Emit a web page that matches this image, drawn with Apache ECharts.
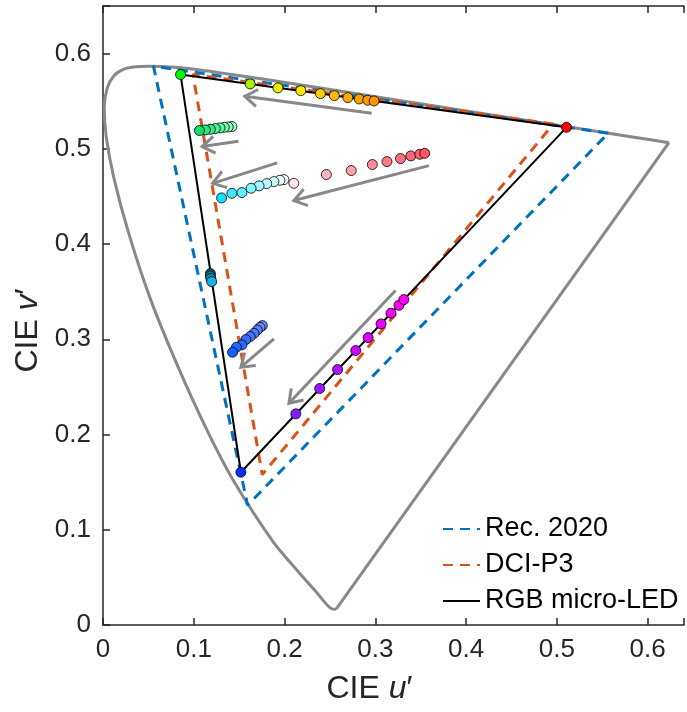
<!DOCTYPE html>
<html>
<head>
<meta charset="utf-8">
<script src="https://cdn.jsdelivr.net/npm/echarts@6/dist/echarts.min.js"></script>
<style>
html,body{margin:0;padding:0;background:#fff;}
#chart{width:687px;height:712px;}
</style>
</head>
<body>
<div id="chart"></div>
<script>
// Spectral locus (CIE 1931 2°, converted to u'v'), 700 nm ... 380 nm
const locusU = [0.6234,0.5830,0.5203,0.4035,0.3315,0.2623,0.2026,0.1531,0.1127,0.0792,0.0501,0.0360,0.0231,0.0123,0.0046,0.0014,0.0035,0.0119,0.0282,0.0521,0.0828,0.1147,0.1441,0.1877,0.2161,0.2347,0.2522,0.2568];
const locusV = [0.5065,0.5125,0.5219,0.5393,0.5501,0.5604,0.5694,0.5766,0.5821,0.5856,0.5868,0.5861,0.5837,0.5770,0.5638,0.5432,0.5131,0.4698,0.4117,0.3427,0.2708,0.2044,0.1510,0.0871,0.0549,0.0350,0.0169,0.0166];

// Gamut triangles (R, G, B)
const rec2020U = [0.5566,0.0556,0.1593];
const rec2020V = [0.5165,0.5868,0.1258];
const p3U = [0.4961,0.0991,0.1754];
const p3V = [0.5261,0.5780,0.1579];
const ledU = [0.5106,0.0854,0.1519];
const ledV = [0.5226,0.5780,0.1604];

// Measured points
const topU = [0.0854,0.1621,0.1927,0.2179,0.2395,0.2548,0.2697,0.2822,0.2916,0.2986];
const topV = [0.5780,0.5682,0.5640,0.5611,0.5580,0.5559,0.5538,0.5524,0.5510,0.5503];
const topColors = ['#00ff00','#a8f000','#e8f000','#ffe600','#ffcc00','#ffbb00','#ffaa00','#ffa200','#ff9a00','#ff9400'];

const greenU = [0.1420,0.1380,0.1336,0.1289,0.1237,0.1183,0.1128,0.1062];
const greenV = [0.5234,0.5230,0.5226,0.5220,0.5213,0.5205,0.5199,0.5192];
const greenColors = ['#a0ffc8','#8cffbc','#78ffb0','#64f8a4','#50f098','#3ce88c','#28e480','#10e070'];

const cyanU = [0.2102,0.1993,0.1949,0.1883,0.1803,0.1719,0.1631,0.1530,0.1420,0.1306];
const cyanV = [0.4638,0.4677,0.4670,0.4656,0.4635,0.4611,0.4586,0.4541,0.4533,0.4485];
const cyanColors = ['#ffe4ec','#ffffff','#e8ffff','#d0ffff','#b8fcff','#a0f8ff','#80f4ff','#60eeff','#40e8ff','#10e0ff'];

const pinkU = [0.2460,0.2734,0.2967,0.3128,0.3277,0.3391,0.3490,0.3544];
const pinkV = [0.4730,0.4772,0.4835,0.4866,0.4898,0.4926,0.4943,0.4953];
const pinkColors = ['#ffb4bc','#ffa0aa','#ff8c98','#ff7c8a','#ff707e','#ff6674','#ff5e6c','#ff5666'];

const tealU = [0.1183,0.1183,0.1188,0.1197];
const tealV = [0.3690,0.3664,0.3638,0.3606];
const tealColors = ['#105c70','#147890','#1894b8','#1cb0e8'];

const blueU = [0.1755,0.1730,0.1700,0.1664,0.1621,0.1573,0.1530,0.1470,0.1427];
const blueV = [0.3144,0.3126,0.3098,0.3063,0.3029,0.2997,0.2942,0.2917,0.2864];
const blueColors = ['#7090ff','#6888ff','#5c80ff','#5078ff','#4474ff','#386cff','#2c68ff','#2064ff','#1060ff'];

const purpleU = [0.1519,0.2124,0.2387,0.2584,0.2784,0.2920,0.3063,0.3172,0.3260,0.3314,0.5106];
const purpleV = [0.1604,0.2217,0.2483,0.2682,0.2882,0.3018,0.3162,0.3274,0.3357,0.3417,0.5226];
const purpleColors = ['#0030ff','#8020ff','#9818ff','#b010ff','#c808ff','#dc00ff','#ec00ff','#f800ff','#ff00f8','#ff00f0','#ff0000'];

// Arrows (start -> end)
const arrowStartU = [0.2960,0.1492,0.1919,0.3591,0.1883,0.3222];
const arrowStartV = [0.5373,0.5079,0.4853,0.4824,0.3005,0.3512];
const arrowEndU = [0.1562,0.1092,0.1208,0.2102,0.1519,0.2048];
const arrowEndV = [0.5552,0.5024,0.4638,0.4457,0.2707,0.2329];

const xTicks = [0,0.1,0.2,0.3,0.4,0.5,0.6];
const yTicks = [0,0.1,0.2,0.3,0.4,0.5,0.6];

function pairs(u, v) { return u.map((x, i) => [x, v[i]]); }
function closed(u, v) { const p = pairs(u, v); p.push(p[0]); return p; }
function colored(u, v, c) { return u.map((x, i) => ({ value: [x, v[i]], itemStyle: { color: c[i] } })); }

const axisColor = '#262626';
const FONT = 'Liberation Sans, Arial, sans-serif';

function scatterSeries(u, v, c) {
  return {
    type: 'scatter', data: colored(u, v, c), symbol: 'circle', symbolSize: 10,
    itemStyle: { borderColor: '#000', borderWidth: 0.8, opacity: 1 }, z: 10, silent: true
  };
}

const titleRich = {
  a: { fontSize: 32, fontFamily: FONT, color: axisColor },
  b: { fontSize: 32, fontFamily: FONT, fontStyle: 'italic', color: axisColor }
};

const chart = echarts.init(document.getElementById('chart'), null, { renderer: 'canvas' });

const option = {
  backgroundColor: '#fff',
  animation: false,
  grid: { left: 103, top: 6, width: 585, height: 619, containLabel: false },
  xAxis: [{
    type: 'value', min: 0, max: 0.64, interval: 0.1,
    position: 'bottom',
    axisLine: { show: true, onZero: false, lineStyle: { color: axisColor, width: 1.5 } },
    axisTick: { show: true, inside: true, length: 7, lineStyle: { color: axisColor, width: 1.5 } },
    axisLabel: { color: axisColor, fontSize: 26, fontFamily: FONT, margin: 12,
      formatter: v => (xTicks.some(t => Math.abs(t - v) < 1e-9) ? String(+v.toFixed(1)) : '') },
    splitLine: { show: false },
    name: '{a|CIE }{b|u}{a|′}', nameLocation: 'middle', nameGap: 48,
    nameTextStyle: { rich: titleRich, padding: [0, 48, 0, 0] }
  }, {
    type: 'value', min: 0, max: 0.64, interval: 0.1, position: 'top',
    axisLine: { show: true, onZero: false, lineStyle: { color: axisColor, width: 1.5 } },
    axisTick: { show: true, inside: true, length: 7, lineStyle: { color: axisColor, width: 1.5 } },
    axisLabel: { show: false }, splitLine: { show: false }
  }],
  yAxis: [{
    type: 'value', min: 0, max: 0.65, interval: 0.1,
    axisLine: { show: true, onZero: false, lineStyle: { color: axisColor, width: 1.5 } },
    axisTick: { show: true, inside: true, length: 7, lineStyle: { color: axisColor, width: 1.5 } },
    axisLabel: { color: axisColor, fontSize: 26, fontFamily: FONT, margin: 12,
      formatter: v => (yTicks.some(t => Math.abs(t - v) < 1e-9) ? String(+v.toFixed(1)) : '') },
    splitLine: { show: false },
    name: '{a|CIE }{b|v}{a|′}', nameLocation: 'middle', nameGap: 58, nameRotate: 90,
    nameTextStyle: { rich: titleRich, padding: [0, 30, 0, 0] }
  }],
  legend: {
    data: ['Rec. 2020', 'DCI-P3', 'RGB micro-LED'],
    orient: 'vertical', left: 437, top: 509,
    itemWidth: 37, itemHeight: 14, itemGap: 6,
    itemStyle: { opacity: 0 },
    textStyle: { fontSize: 27, fontFamily: FONT, color: '#000', lineHeight: 30 },
    selectedMode: false
  },
  series: [
    { type: 'line', name: 'locus', data: pairs(locusU, locusV), smooth: 0.25, symbol: 'none',
      lineStyle: { color: '#888888', width: 3 }, z: 2, silent: true },
    { type: 'line', name: 'purpleLine', data: [[locusU[0], locusV[0]], [locusU[locusU.length - 1], locusV[locusV.length - 1]]],
      symbol: 'none', lineStyle: { color: '#888888', width: 3 }, z: 2, silent: true },
    { type: 'line', name: 'Rec. 2020', data: closed(rec2020U, rec2020V), symbol: 'none',
      itemStyle: { color: '#0072bd' },
      lineStyle: { color: '#0072bd', width: 3, type: [10, 7] }, z: 3, silent: true },
    { type: 'line', name: 'DCI-P3', data: closed(p3U, p3V), symbol: 'none',
      itemStyle: { color: '#d95319' },
      lineStyle: { color: '#d95319', width: 3, type: [10, 7] }, z: 3, silent: true },
    { type: 'line', name: 'RGB micro-LED', data: closed(ledU, ledV), symbol: 'none',
      itemStyle: { color: '#000' },
      lineStyle: { color: '#000', width: 2 }, z: 4, silent: true },
    {
      type: 'custom', name: 'arrows', z: 5, silent: true,
      data: arrowStartU.map((u, i) => [u, arrowStartV[i], arrowEndU[i], arrowEndV[i]]),
      renderItem: function (params, api) {
        const s = api.coord([api.value(0), api.value(1)]);
        const e = api.coord([api.value(2), api.value(3)]);
        const ang = Math.atan2(s[1] - e[1], s[0] - e[0]);
        const L = 15, A = 0.6;
        const w1 = [e[0] + L * Math.cos(ang + A), e[1] + L * Math.sin(ang + A)];
        const w2 = [e[0] + L * Math.cos(ang - A), e[1] + L * Math.sin(ang - A)];
        const st = { stroke: '#888888', lineWidth: 3, fill: null };
        return {
          type: 'group', children: [
            { type: 'line', shape: { x1: s[0], y1: s[1], x2: e[0], y2: e[1] }, style: st },
            { type: 'polyline', shape: { points: [w1, e, w2] }, style: st }
          ]
        };
      }
    },
    scatterSeries(topU, topV, topColors),
    scatterSeries(greenU, greenV, greenColors),
    scatterSeries(cyanU, cyanV, cyanColors),
    scatterSeries(pinkU, pinkV, pinkColors),
    scatterSeries(tealU, tealV, tealColors),
    scatterSeries(blueU, blueV, blueColors),
    scatterSeries(purpleU, purpleV, purpleColors)
  ]
};
chart.setOption(option);
</script>
</body>
</html>
